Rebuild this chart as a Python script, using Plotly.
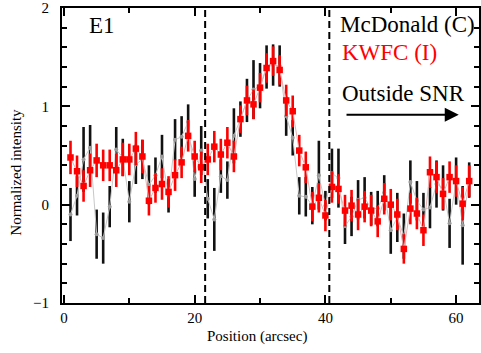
import plotly.graph_objects as go

# Position (arcsec)
positions = list(range(1, 63))

# McDonald (C) — normalized intensity and 1-sigma errors
mcd_vals = [-0.10, 0.09, 0.46, 0.58, -0.30, -0.34, -0.02, 0.56, 0.48, 0.03,
            0.41, 0.46, 0.20, 0.30, 0.49, 0.09, 0.66, 0.69, 0.84, 0.26,
            0.55, 0.06, -0.15, 0.29, 0.25, 0.70, 0.87, 1.06, 1.17, 1.21,
            1.40, 1.42, 1.41, 0.90, 0.68, 0.09, 0.08, -0.01, 0.30, -0.01,
            0.32, 0.27, -0.22, -0.12, 0.05, 0.07, -0.04, -0.04, 0.12, -0.26,
            -0.13, -0.32, 0.23, 0.04, -0.05, -0.03, 0.21, 0.17, -0.19, 0.24,
            -0.21, 0.25]
mcd_errs = [0.27, 0.20, 0.33, 0.23, 0.25, 0.26, 0.21, 0.23, 0.19, 0.21,
            0.20, 0.20, 0.20, 0.18, 0.22, 0.17, 0.21, 0.21, 0.18, 0.18,
            0.25, 0.20, 0.32, 0.17, 0.19, 0.28, 0.18, 0.22, 0.30, 0.23,
            0.22, 0.21, 0.21, 0.20, 0.18, 0.19, 0.20, 0.19, 0.35, 0.15,
            0.25, 0.30, 0.18, 0.20, 0.20, 0.21, 0.17, 0.18, 0.18, 0.24,
            0.25, 0.23, 0.22, 0.20, 0.17, 0.21, 0.24, 0.23, 0.25, 0.24,
            0.40, 0.18]

# KWFC (I)
kwfc_vals = [0.48, 0.34, 0.19, 0.35, 0.45, 0.40, 0.40, 0.35, 0.46, 0.46,
             0.57, 0.49, 0.04, 0.17, 0.21, 0.13, 0.30, 0.43, 0.70, 0.49,
             0.38, 0.46, 0.59, 0.51, 0.63, 0.49, 0.87, 1.06, 1.02, 1.19,
             1.39, 1.46, 1.37, 1.06, 0.95, 0.55, 0.38, -0.02, 0.07, -0.11,
             0.18, 0.16, -0.06, -0.01, -0.10, -0.02, -0.06, -0.17, 0.06, 0.00,
             -0.10, -0.45, -0.04, -0.09, -0.26, 0.33, 0.28, 0.11, 0.28, 0.24,
             0.01, 0.24]
kwfc_errs = [0.17, 0.16, 0.16, 0.17, 0.17, 0.16, 0.16, 0.17, 0.17, 0.16,
             0.17, 0.17, 0.15, 0.15, 0.16, 0.16, 0.16, 0.16, 0.16, 0.16,
             0.16, 0.16, 0.16, 0.16, 0.16, 0.16, 0.14, 0.15, 0.15, 0.15,
             0.15, 0.15, 0.15, 0.16, 0.16, 0.16, 0.16, 0.15, 0.15, 0.16,
             0.16, 0.15, 0.16, 0.16, 0.16, 0.16, 0.16, 0.16, 0.16, 0.16,
             0.16, 0.15, 0.16, 0.16, 0.16, 0.16, 0.16, 0.16, 0.16, 0.16,
             0.17, 0.16]

boundaries = [21.6, 40.6]
x_ticks = [0, 20, 40, 60]
y_ticks = [-1, 0, 1, 2]

SERIF = "Liberation Serif"

fig = go.Figure()

fig.add_trace(go.Scatter(
    x=positions, y=mcd_vals, mode="lines+markers",
    line=dict(color="#c8c8c8", width=1),
    marker=dict(color="#9a9a9a", size=4, symbol="circle"),
    error_y=dict(type="data", array=mcd_errs, color="#111111", thickness=2.6, width=0),
    showlegend=False,
))
fig.add_trace(go.Scatter(
    x=positions, y=kwfc_vals, mode="lines+markers",
    line=dict(color="#e8b0b0", width=1),
    marker=dict(color="#ff0000", size=6.5, symbol="square"),
    error_y=dict(type="data", array=kwfc_errs, color="#ff0000", thickness=2.6, width=0),
    showlegend=False,
))

for b in boundaries:
    fig.add_shape(type="line", x0=b, x1=b, xref="x", y0=0, y1=1, yref="paper",
                  line=dict(color="black", width=2, dash="7px,4px"))

ann = [
    dict(text="E1", x=3.6, y=1.82, color="black"),
    dict(text="McDonald (C)", x=42.0, y=1.83, color="black"),
    dict(text="KWFC (I)", x=42.2, y=1.55, color="#ff0000"),
    dict(text="Outside SNR", x=42.2, y=1.13, color="black"),
]
for a in ann:
    fig.add_annotation(xref="x", yref="y", showarrow=False, text=a["text"],
                       x=a["x"], y=a["y"], xanchor="left", yanchor="middle",
                       font=dict(family=SERIF, size=23, color=a["color"]))

fig.add_annotation(x=60.4, y=0.915, ax=43.0, ay=0.915, xref="x", yref="y",
                   axref="x", ayref="y", showarrow=True, arrowhead=2,
                   arrowsize=1.4, arrowwidth=2, arrowcolor="black", text="")

fig.add_annotation(text="Position (arcsec)", xref="paper", yref="paper",
                   x=(258 - 62) / 419, y=(303 - 337) / 296, showarrow=False,
                   xanchor="center", yanchor="middle",
                   font=dict(family=SERIF, size=15, color="black"))
fig.add_annotation(text="Normalized intensity", xref="paper", yref="paper",
                   x=(16 - 62) / 419, y=(303 - 172) / 296, showarrow=False,
                   textangle=-90, xanchor="center", yanchor="middle",
                   font=dict(family=SERIF, size=15, color="black"))

axis_common = dict(showline=True, linecolor="black", linewidth=2, mirror="allticks",
                   ticks="inside", ticklen=8, tickwidth=2, tickcolor="black",
                   showgrid=False, zeroline=False, ticklabeloverflow="allow",
                   tickfont=dict(family=SERIF, size=15, color="black"))

fig.update_xaxes(range=[-0.3, 63.5], tickvals=x_ticks, ticktext=[str(v) for v in x_ticks],
                 minor=dict(dtick=10, tick0=0, ticks="inside", ticklen=5, tickwidth=2,
                            tickcolor="black"),
                 ticklabelstandoff=0, **axis_common)
fig.update_yaxes(range=[-1, 2], tickvals=y_ticks, ticktext=["\u22121", "0", "1", "2"],
                 minor=dict(dtick=0.2, tick0=0, ticks="inside", ticklen=5, tickwidth=2,
                            tickcolor="black"),
                 ticklabelstandoff=8, **axis_common)

fig.update_layout(width=481, height=353,
                  margin=dict(l=62, r=0, t=7, b=50),
                  paper_bgcolor="white", plot_bgcolor="white",
                  font=dict(family=SERIF))

fig.write_html(
    "out.html",
    config={"displayModeBar": False},
    post_script="document.body.style.margin='0';document.body.style.overflow='hidden';",
)
